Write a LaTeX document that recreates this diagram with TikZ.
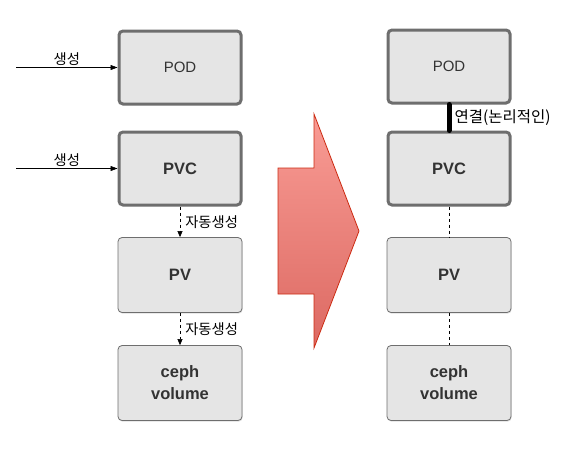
\documentclass[tikz,border=0pt]{standalone}
\usepackage{fontspec}
\setmainfont{Liberation Sans}
\newfontfamily\kr{Noto Sans CJK KR}
\usetikzlibrary{arrows.meta,shadows}

\definecolor{boxfill}{HTML}{E5E5E5}
\definecolor{boxline}{HTML}{6E6E6E}
\definecolor{boxtext}{HTML}{333333}
\definecolor{arrowtop}{HTML}{F99C95}
\definecolor{arrowbot}{HTML}{DC6962}
\definecolor{arrowline}{HTML}{CC2B12}

\tikzset{
    objbox/.style={draw=boxline, fill=boxfill, rounded corners=4pt, line width=0.8pt,
        minimum width=124pt, minimum height=75pt, text=boxtext, align=center,
        font=\fontsize{16.5}{22}\selectfont\bfseries,
        drop shadow={opacity=0.25, shadow xshift=0.6pt, shadow yshift=-1.2pt}},
    userbox/.style={objbox, line width=3pt, minimum width=122pt, minimum height=73pt},
    krlabel/.style={font=\kr\fontsize{14.3}{16}\selectfont, inner sep=2pt},
    autoarrow/.style={dashed, -{Triangle[length=6pt,width=5pt]}, line width=0.6pt}
}

\begin{document}
\begin{tikzpicture}[x=1pt, y=-1pt]
    \useasboundingbox (0,0) rectangle (572,448);

    % left column
    \node[userbox, font=\fontsize{15}{18}\selectfont] (podL) at (180, 67.5) {POD};
    \node[userbox] (pvcL) at (180, 168.5) {PVC};
    \node[objbox] (pvL) at (180, 275) {PV};
    \node[objbox] (cephL) at (180, 383) {ceph\\volume};

    \coordinate (inPod) at (16, 67.5);
    \coordinate (inPvc) at (16, 168.5);
    \draw[-{Triangle[length=7pt,width=5pt]}, line width=0.6pt] (inPod) -- (podL.west)
        node[midway, above, krlabel] {생성};
    \draw[-{Triangle[length=7pt,width=5pt]}, line width=0.6pt] (inPvc) -- (pvcL.west)
        node[midway, above, krlabel] {생성};

    \draw[autoarrow] (pvcL.south) -- (pvL.north) node[midway, right=3pt, krlabel] {자동생성};
    \draw[autoarrow] (pvL.south) -- (cephL.north) node[midway, right=3pt, krlabel] {자동생성};

    % big arrow
    \shade[top color=arrowtop, bottom color=arrowbot, draw=arrowline, line width=0.8pt]
        (278,168) -- (314,168) -- (314,114) -- (359,231) -- (314,348)
        -- (314,294) -- (278,294) -- cycle;

    % right column
    \node[userbox, font=\fontsize{15}{18}\selectfont] (podR) at (449, 66.5) {POD};
    \node[userbox] (pvcR) at (449, 168.5) {PVC};
    \node[objbox] (pvR) at (449, 275) {PV};
    \node[objbox] (cephR) at (449, 383) {ceph\\volume};

    \draw[line width=5pt, line cap=round] (podR.south) -- (pvcR.north)
        node[midway, right=1pt, krlabel, font=\kr\fontsize{15.5}{17}\selectfont] {연결(논리적인)};
    \draw[dashed, line width=0.6pt] (pvcR.south) -- (pvR.north);
    \draw[dashed, line width=0.6pt] (pvR.south) -- (cephR.north);
\end{tikzpicture}
\end{document}
